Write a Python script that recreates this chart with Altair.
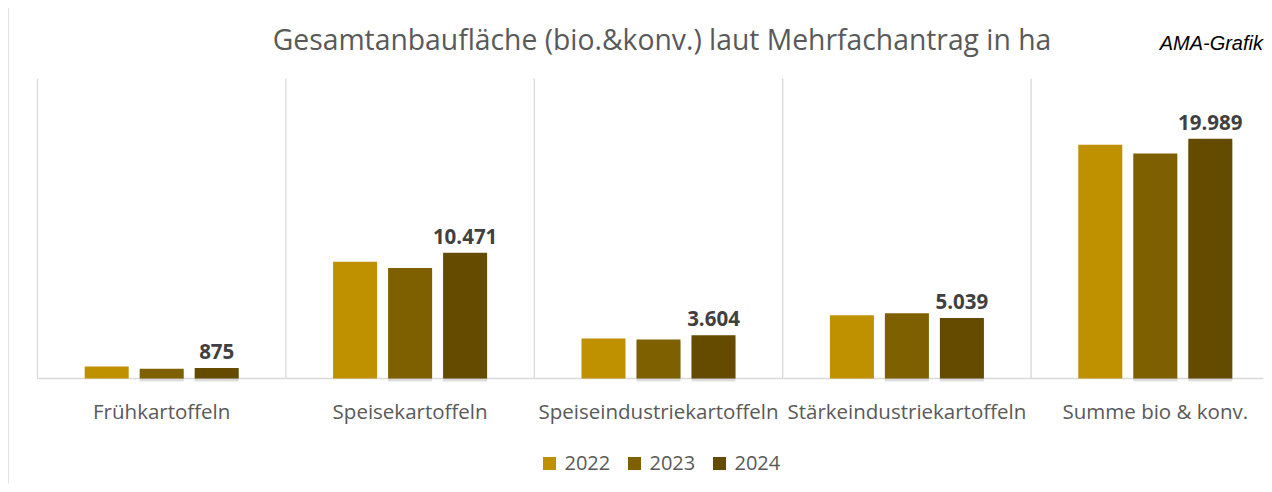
import altair as alt
import pandas as pd

categories = ["Frühkartoffeln", "Speisekartoffeln", "Speiseindustriekartoffeln",
              "Stärkeindustriekartoffeln", "Summe bio & konv."]
years = ["2022", "2023", "2024"]
values_2022 = [1000, 9720, 3330, 5280, 19480]
values_2023 = [810, 9210, 3240, 5440, 18740]
values_2024 = [875, 10471, 3604, 5039, 19989]
colors = ["#BF9000", "#7F6000", "#644B00"]
title_text = "Gesamtanbaufläche (bio.&konv.) laut Mehrfachantrag in ha"
source_text = "AMA-Grafik"

rows = []
for yr, vals in zip(years, [values_2022, values_2023, values_2024]):
    for c, v in zip(categories, vals):
        rows.append({
            "Kategorie": c,
            "Jahr": yr,
            "Wert": v,
            "Label": f"{v:,}".replace(",", ".") if yr == "2024" else "",
        })
df = pd.DataFrame(rows)

FONT = "Open Sans"
GREY = "#595959"
LINE = "#D9D9D9"
W, H = 1226, 300

xscale = alt.Scale(range=[0, 1242], paddingInner=0, paddingOuter=0)
xaxis = alt.Axis(title=None, labelAngle=0, labelFontSize=20.5, labelColor=GREY,
                 labelFont=FONT, labelPadding=24, ticks=False, labelLimit=0,
                 domain=False, grid=False)
x_enc = alt.X("Kategorie:N", sort=categories, scale=xscale, axis=xaxis)
xoff = alt.XOffset("Jahr:N", sort=years,
                   scale=alt.Scale(paddingInner=0.2, paddingOuter=0.858))
y_enc = alt.Y("Wert:Q", scale=alt.Scale(domain=[0, 25000]), axis=None)

first = alt.Chart(df).transform_filter(alt.datum.Jahr == "2024").transform_filter(
    alt.datum.Kategorie == categories[0])

grid = alt.Chart(df).transform_filter(alt.datum.Jahr == "2024").mark_rule(
    color=LINE, strokeWidth=1.3
).encode(
    x=alt.X("Kategorie:N", sort=categories, scale=xscale, bandPosition=0, axis=xaxis),
    y=alt.value(0), y2=alt.value(H),
)

baseline = first.mark_rule(color=LINE, strokeWidth=1.5).encode(
    x=alt.value(0), x2=alt.value(W), y=alt.value(H)
)

shadow = alt.Chart(df).transform_filter(alt.datum.Jahr != "2022").mark_bar(
    color="#808080", opacity=0.25, yOffset=3
).encode(x=x_enc, xOffset=xoff, y=y_enc)

bars = alt.Chart(df).mark_bar().encode(
    x=x_enc, xOffset=xoff, y=y_enc,
    color=alt.Color("Jahr:N", sort=years,
                    scale=alt.Scale(domain=years, range=colors),
                    legend=alt.Legend(title=None, orient="none", direction="horizontal",
                                      legendX=502, legendY=375, padding=0,
                                      symbolType="square", symbolSize=169,
                                      symbolStrokeWidth=0, labelFontSize=20,
                                      labelFont=FONT, labelColor=GREY,
                                      labelOffset=5, columnPadding=14)),
)

labels = alt.Chart(df).transform_filter(alt.datum.Jahr == "2024").mark_text(
    font=FONT, fontSize=20.5, fontWeight="bold", color="#404040",
    baseline="alphabetic", dy=-9,
).encode(x=x_enc, xOffset=xoff, y=y_enc, text="Label:N")

border = first.mark_rule(color=LINE, strokeWidth=1.5).encode(
    x=alt.value(-29.5), y=alt.value(-70.5), y2=alt.value(405)
)

title = first.mark_text(
    text=title_text, font=FONT, fontSize=28.3, color=GREY,
    align="center", baseline="alphabetic",
).encode(x=alt.value(624.5), y=alt.value(-28.5))

ama = first.mark_text(
    text=source_text, font="Liberation Sans", fontStyle="italic", fontSize=20,
    color="#000000", align="right", baseline="alphabetic",
).encode(x=alt.value(1225.5), y=alt.value(-28.5))

chart = alt.layer(border, grid, baseline, shadow, bars, labels, title, ama).properties(
    width=W, height=H,
    autosize=alt.AutoSizeParams(type="none"),
    padding={"left": 29.5, "top": 70.5, "right": 0, "bottom": 105},
).configure_view(strokeWidth=0)

chart.save("out.html", embed_options={"renderer": "svg", "actions": False})
